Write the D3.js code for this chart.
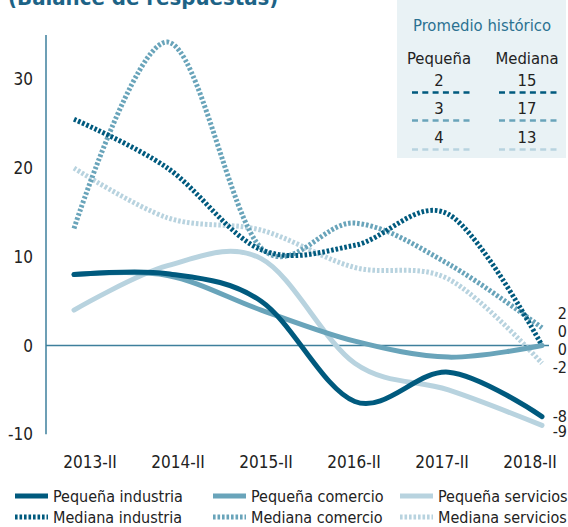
<!DOCTYPE html>
<html lang="es">
<head>
<meta charset="UTF-8">
<title>Balance de respuestas</title>
<script src="https://d3js.org/d3.v7.min.js"></script>
<style>
  body { margin: 0; background: #fff; }
  svg { display: block; font-family: 'DejaVu Sans Condensed', 'DejaVu Sans', sans-serif; }
</style>
</head>
<body>
<div id="chart"></div>
<script>
// data
const periods = ['2013-II', '2014-II', '2015-II', '2016-II', '2017-II', '2018-II'];
const pequenaIndustria = [8, 8.1, 5, -6.3, -3, -8];
const pequenaComercio = [8, 7.9, 4, 0.5, -1.3, 0];
const pequenaServicios = [4, 9, 9.8, -2, -5, -9];
const medianaIndustria = [25.5, 20, 10.8, 11.3, 14.8, 0];
const medianaComercio = [13.2, 34.2, 11, 13.8, 9.2, 2];
const medianaServicios = [20, 14.4, 13, 8.8, 7.5, -2];
const yTicks = [-10, 0, 10, 20, 30];
const histPequena = [2, 3, 4];
const histMediana = [15, 17, 13];

const dark = '#005a7e', mid = '#69a4ba', light = '#b8d3df';

const series = [
  { name: 'Pequeña industria', values: pequenaIndustria, color: dark, dotted: false },
  { name: 'Pequeña comercio', values: pequenaComercio, color: mid, dotted: false },
  { name: 'Pequeña servicios', values: pequenaServicios, color: light, dotted: false },
  { name: 'Mediana industria', values: medianaIndustria, color: dark, dotted: true },
  { name: 'Mediana comercio', values: medianaComercio, color: mid, dotted: true },
  { name: 'Mediana servicios', values: medianaServicios, color: light, dotted: true }
];

const W = 568, H = 527;
const svg = d3.select('#chart').append('svg').attr('width', W).attr('height', H);

const x = d3.scalePoint().domain(periods).range([74, 542]);
const xLab = d3.scaleBand().domain(periods).range([46, 574]);
const y = d3.scaleLinear().domain([-10, 35]).range([434.3, 35]);

// title (cut at top)
svg.append('text').attr('x', 8).attr('y', 5)
  .attr('font-size', 22).attr('font-weight', 'bold').attr('fill', '#1d6386')
  .text('(Balance de respuestas)');

// historical box
const box = svg.append('g');
box.append('rect').attr('x', 397).attr('y', 0).attr('width', 169).attr('height', 158).attr('fill', '#e9f2f5');
box.append('text').attr('x', 482).attr('y', 31).attr('text-anchor', 'middle')
  .attr('font-size', 16.5).attr('fill', '#2b7191').text('Promedio histórico');
box.append('text').attr('x', 439).attr('y', 64).attr('text-anchor', 'middle')
  .attr('font-size', 16.5).attr('fill', '#222').text('Pequeña');
box.append('text').attr('x', 527).attr('y', 64).attr('text-anchor', 'middle')
  .attr('font-size', 16.5).attr('fill', '#222').text('Mediana');
const histColors = [dark, mid, light];
const rowY = [86, 114, 143];
histPequena.forEach((v, i) => {
  box.append('text').attr('x', 439).attr('y', rowY[i]).attr('text-anchor', 'middle')
    .attr('font-size', 16.5).attr('fill', '#222').text(v);
  box.append('text').attr('x', 527).attr('y', rowY[i]).attr('text-anchor', 'middle')
    .attr('font-size', 16.5).attr('fill', '#222').text(histMediana[i]);
  [[412, 472], [499, 559]].forEach(([a, b]) => {
    box.append('line').attr('x1', a).attr('x2', b).attr('y1', rowY[i] + 6.5).attr('y2', rowY[i] + 6.5)
      .attr('stroke', histColors[i]).attr('stroke-width', 2.6).attr('stroke-dasharray', '6,4.3');
  });
});

// y axis
svg.append('line').attr('x1', 46).attr('x2', 46).attr('y1', y(35)).attr('y2', y(-10))
  .attr('stroke', '#3d7f9c').attr('stroke-width', 1.5);
svg.append('line').attr('x1', 46).attr('x2', 549).attr('y1', y(0)).attr('y2', y(0))
  .attr('stroke', '#3d7f9c').attr('stroke-width', 1.5);
svg.selectAll('.ytick').data(yTicks).enter().append('text')
  .attr('x', 33).attr('y', d => y(d) + 6).attr('text-anchor', 'end')
  .attr('font-size', 17).attr('fill', '#222').text(d => d);

// x labels
svg.selectAll('.xtick').data(periods).enter().append('text')
  .attr('x', d => xLab(d) + xLab.bandwidth() / 2).attr('y', 468).attr('text-anchor', 'middle')
  .attr('font-size', 17).attr('fill', '#222').text(d => d);

// lines
const line = d3.line().x((d, i) => x(periods[i])).y(d => y(d)).curve(d3.curveCatmullRom.alpha(0));
const order = [5, 4, 3, 2, 1, 0];
order.forEach(k => {
  const s = series[k];
  svg.append('path').attr('d', line(s.values)).attr('fill', 'none')
    .attr('stroke', s.color).attr('stroke-width', 5)
    .attr('stroke-linecap', s.dotted ? 'butt' : 'round')
    .attr('stroke-dasharray', s.dotted ? '2.6,1.9' : null);
});

// end labels (declutter)
function placeLabels(vals, gap, shift) {
  const ys = vals.map(v => y(v));
  const c = d3.mean(ys) + shift;
  return vals.map((v, i) => c + (i - (vals.length - 1) / 2) * gap);
}
const last = series.map(s => s.values[s.values.length - 1]);
const groupA = [last[4], last[3], last[1], last[5]];
const groupB = [last[0], last[2]];
const posA = placeLabels(groupA, 18, -5);
const posB = placeLabels(groupB, 15, 3);
groupA.concat(groupB).forEach((v, i) => {
  const py = i < 4 ? posA[i] : posB[i - 4];
  svg.append('text').attr('x', 567).attr('y', py + 5.5).attr('text-anchor', 'end')
    .attr('font-size', 16).attr('fill', '#222').text(v);
});

// legend
const legX = [15, 213, 400];
series.forEach((s, i) => {
  const col = i % 3, row = Math.floor(i / 3);
  const ly = 496 + row * 21;
  svg.append('line').attr('x1', legX[col]).attr('x2', legX[col] + 33).attr('y1', ly).attr('y2', ly)
    .attr('stroke', s.color).attr('stroke-width', 5)
    .attr('stroke-dasharray', s.dotted ? '2.6,1.9' : null);
  svg.append('text').attr('x', legX[col] + 38).attr('y', ly + 6)
    .attr('font-size', 16).attr('fill', '#222').text(s.name);
});
</script>
</body>
</html>
